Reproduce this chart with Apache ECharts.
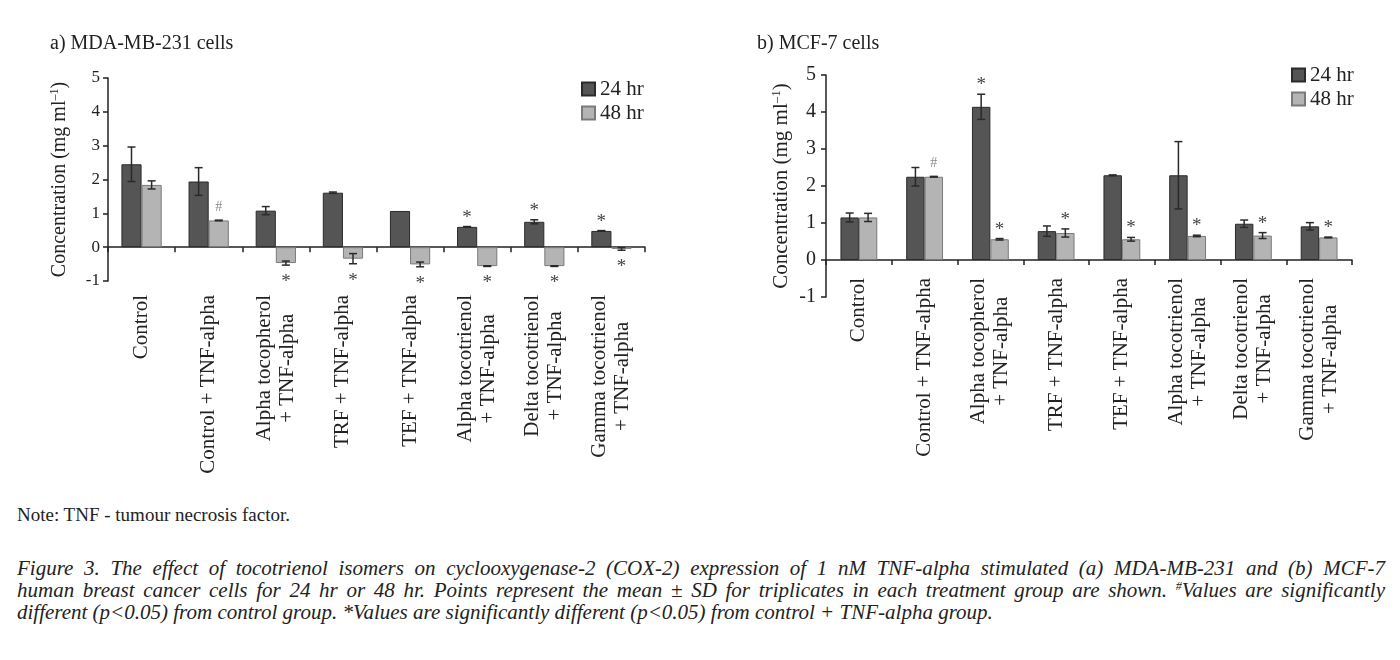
<!DOCTYPE html>
<html>
<head>
<meta charset="utf-8">
<script src="https://cdn.jsdelivr.net/npm/echarts@6/dist/echarts.min.js"></script>
<style>
body {margin: 0; background: #fff;}
#chart {position: absolute; left: 0; top: 0; width: 1400px; height: 500px;}
.note {position: absolute; left: 17px; top: 504px; font: 19px 'Liberation Serif', serif; color: #222;}
.cap {position: absolute; left: 17px; width: 1368px; font: italic 21px 'Liberation Serif', serif; line-height: 22px; color: #222; white-space: nowrap;}
.cap.j {text-align: justify; text-align-last: justify; white-space: normal;}
.cap sup {font-size: 12px; vertical-align: 7px; line-height: 0;}
</style>
</head>
<body>
<div id="chart"></div>
<div class="note">Note: TNF - tumour necrosis factor.</div>
<div class="cap j" style="top:557px">Figure 3. The effect of tocotrienol isomers on cyclooxygenase-2 (COX-2) expression of 1 nM TNF-alpha stimulated (a) MDA-MB-231 and (b) MCF-7</div>
<div class="cap j" style="top:579px">human breast cancer cells for 24 hr or 48 hr. Points represent the mean ± SD for triplicates in each treatment group are shown. <sup>#</sup>Values are significantly</div>
<div class="cap" style="top:601px">different (p&lt;0.05) from control group. *Values are significantly different (p&lt;0.05) from control + TNF-alpha group.</div>
<script>
var categories = ['Control', 'Control + TNF-alpha', 'Alpha tocopherol\n+ TNF-alpha', 'TRF + TNF-alpha',
  'TEF + TNF-alpha', 'Alpha tocotrienol\n+ TNF-alpha', 'Delta tocotrienol\n+ TNF-alpha', 'Gamma tocotrienol\n+ TNF-alpha'];
var yTicks = [-1, 0, 1, 2, 3, 4, 5];

// a) MDA-MB-231
var mda24 = [2.45, 1.94, 1.08, 1.61, 1.07, 0.60, 0.75, 0.48];
var mda24Sd = [0.51, 0.41, 0.12, 0.02, 0, 0.01, 0.06, 0.01];
var mda48 = [1.84, 0.79, -0.47, -0.34, -0.51, -0.56, -0.56, -0.05];
var mda48Sd = [0.12, 0.01, 0.06, 0.15, 0.07, 0.01, 0.01, 0.04];
var mdaMark24 = ['', '', '', '', '', '*', '*', '*'];
var mdaMark48 = ['', '#', '*', '*', '*', '*', '*', '*'];

// b) MCF-7
var mcf24 = [1.15, 2.25, 4.14, 0.78, 2.29, 2.29, 0.98, 0.91];
var mcf24Sd = [0.12, 0.25, 0.34, 0.14, 0.01, 0.91, 0.10, 0.10];
var mcf48 = [1.15, 2.25, 0.56, 0.73, 0.56, 0.65, 0.66, 0.61];
var mcf48Sd = [0.11, 0.01, 0.02, 0.11, 0.05, 0.02, 0.08, 0.01];
var mcfMark24 = ['', '', '*', '', '', '', '', ''];
var mcfMark48 = ['', '#', '*', '*', '*', '*', '*', '*'];

var FONT = "'Liberation Serif', 'DejaVu Serif', serif";
var dark = '#555555', light = '#b4b4b4';

function labelFmt(v) {
  return v.split('\n').map(function (s) { return '{c|' + s + '}'; }).join('\n');
}

// error bars + significance marks drawn on top of the bars
function errSeries(g, vals, sds, marks, side, half) {
  return {
    type: 'custom', xAxisIndex: g, yAxisIndex: g, z: 10, silent: true,
    data: vals.map(function (v, i) { return [i, v, sds[i]]; }),
    renderItem: function (params, api) {
      var i = api.value(0), v = api.value(1), sd = api.value(2);
      var band = api.size([1, 0])[0];
      var x = api.coord([i, v])[0] + side * band * half;
      var yt = api.coord([i, v + sd])[1], yb = api.coord([i, v - sd])[1];
      var st = {stroke: '#2a2a2a', lineWidth: 1.5};
      var kids = [];
      if (sd > 0) {
        kids.push({type: 'line', shape: {x1: x, y1: yt, x2: x, y2: yb}, style: st});
        kids.push({type: 'line', shape: {x1: x - 4, y1: yt, x2: x + 4, y2: yt}, style: st});
        kids.push({type: 'line', shape: {x1: x - 4, y1: yb, x2: x + 4, y2: yb}, style: st});
      }
      var m = marks[params.dataIndex];
      if (m) {
        var hash = m === '#';
        var y = v >= 0 ? Math.min(yt, yb) - 13 : Math.max(yt, yb) + 13;
        kids.push({type: 'text', x: x, y: y + (hash ? 0 : 4), style: {
          text: m, align: 'center', verticalAlign: 'middle',
          fontSize: hash ? 14 : 19, fontFamily: FONT, fill: hash ? '#8a8a8a' : '#444'
        }});
      }
      return {type: 'group', children: kids};
    }
  };
}

function barSeries(g, name, vals, color, border, gap) {
  return {
    name: name, type: 'bar', xAxisIndex: g, yAxisIndex: g, data: vals,
    barGap: '0%', barCategoryGap: gap,
    itemStyle: {color: color, borderColor: border, borderWidth: 1}
  };
}

function xAxis(g, size, margin) {
  return {
    type: 'category', gridIndex: g, data: categories,
    axisLine: {onZero: true, lineStyle: {color: '#222', width: 1.5}},
    axisTick: {show: true, length: 5, lineStyle: {color: '#222', width: 1.5}},
    axisLabel: {
      rotate: 90, interval: 0, margin: margin, formatter: labelFmt,
      rich: {c: {align: 'center', fontSize: size, fontFamily: FONT, color: '#222', lineHeight: size + 2}}
    }
  };
}

function yAxis(g, size, nameSize, gap, margin) {
  return {
    type: 'value', gridIndex: g, min: yTicks[0], max: yTicks[yTicks.length - 1], interval: 1,
    name: '{a|Concentration (mg ml}{s|–1}{a|)}', nameLocation: 'middle', nameGap: gap,
    nameTextStyle: {rich: {
      a: {fontSize: nameSize, fontFamily: FONT, color: '#222'},
      s: {fontSize: Math.round(nameSize * 0.6), fontFamily: FONT, color: '#222', verticalAlign: 'top', padding: [0, 0, nameSize * 0.45, 0]}
    }},
    splitLine: {show: false},
    axisLine: {show: true, lineStyle: {color: '#222', width: 1.5}},
    axisTick: {show: true, length: 5, lineStyle: {color: '#222', width: 1.5}},
    axisLabel: {fontSize: size, fontFamily: FONT, color: '#222', margin: margin}
  };
}

function legend(names, left, top, size, gap) {
  return {
    data: names, orient: 'vertical', left: left, top: top, padding: 0,
    itemWidth: 13, itemHeight: 13, itemGap: gap, icon: 'rect',
    textStyle: {fontSize: size, lineHeight: size + 1, fontFamily: FONT, color: '#222'}
  };
}

var chart = echarts.init(document.getElementById('chart'));
chart.setOption({
  animation: false,
  title: [
    {text: 'a) MDA-MB-231 cells', left: 45, top: 29, textStyle: {fontSize: 20, fontWeight: 'normal', fontFamily: FONT, color: '#222'}},
    {text: 'b) MCF-7 cells', left: 752, top: 29, textStyle: {fontSize: 20, fontWeight: 'normal', fontFamily: FONT, color: '#222'}}
  ],
  legend: [
    legend(['24 hr', '48 hr'], 581, 78, 21, 2),
    legend(['24 hr ', '48 hr '], 1291, 64, 21, 2)
  ],
  grid: [
    {left: 108, top: 78, width: 537, height: 203},
    {left: 826, top: 75, width: 526, height: 222}
  ],
  xAxis: [xAxis(0, 21, 14), xAxis(1, 21, -19)],
  yAxis: [yAxis(0, 17, 20, 38, 8), yAxis(1, 20, 21, 33, 10)],
  series: [
    barSeries(0, '24 hr', mda24, dark, '#2b2b2b', '40%'),
    barSeries(0, '48 hr', mda48, light, '#7a7a7a', '40%'),
    barSeries(1, '24 hr ', mcf24, dark, '#2b2b2b', '44%'),
    barSeries(1, '48 hr ', mcf48, light, '#7a7a7a', '44%'),
    errSeries(0, mda24, mda24Sd, mdaMark24, -1, 0.15),
    errSeries(0, mda48, mda48Sd, mdaMark48, 1, 0.15),
    errSeries(1, mcf24, mcf24Sd, mcfMark24, -1, 0.14),
    errSeries(1, mcf48, mcf48Sd, mcfMark48, 1, 0.14)
  ]
});
</script>
</body>
</html>
